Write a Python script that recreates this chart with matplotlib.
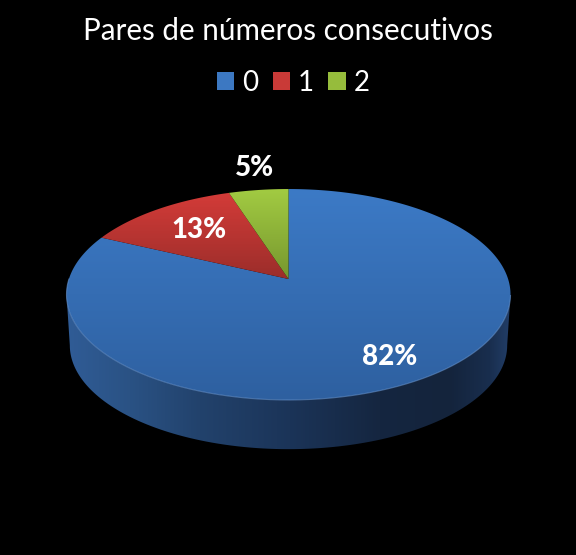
import numpy as np
import matplotlib
matplotlib.use("Agg")
import matplotlib.pyplot as plt
from matplotlib.patches import Polygon, Patch

plt.rcParams['font.family'] = ['Lato', 'DejaVu Sans']

title = "Pares de números consecutivos"
categories = ["0", "1", "2"]
values = [82, 13, 5]
labels = ["82%", "13%", "5%"]
top_colors = [("#3C7AC6", "#2E60A0"), ("#D63C39", "#9A2D2A"), ("#A2CB42", "#76962E")]
legend_colors = ["#3C78C2", "#C93A37", "#96BC3C"]

W, H = 576, 555
fig = plt.figure(figsize=(W / 100, H / 100), dpi=100, facecolor="black")
ax = fig.add_axes([0, 0, 1, 1])
ax.set_xlim(0, W)
ax.set_ylim(H, 0)
ax.axis("off")

# perspective view of the disc
CX, CY, RX, RY, P = 288.5, 279.0, 219.6, 103.2, -0.147
DEPTH_Y, BOTTOM_SCALE = 330.0, 0.985


def project(theta, scale=1.0, cy=CY):
    """theta is measured clockwise from 12 o'clock, in radians."""
    x, y = np.sin(theta), -np.cos(theta)
    d = 1 + P * y
    return CX + scale * RX * x / d, cy + scale * RY * y / d


def rgb(c):
    return np.array(matplotlib.colors.to_rgb(c))


def vgrad(c0, c1, clip, y0, y1, z=2):
    t = np.linspace(0, 1, 256)[:, None, None]
    img = rgb(c0)[None, None, :] * (1 - t) + rgb(c1)[None, None, :] * t
    im = ax.imshow(img, extent=[40, 540, y1, y0], aspect="auto", zorder=z,
                   interpolation="bilinear")
    im.set_clip_path(clip)


# side wall
th = np.linspace(0, 2 * np.pi, 1441)
tx, ty = project(th)
bx, by = project(th, BOTTOM_SCALE, DEPTH_Y)
i_r, i_l = np.argmax(tx), np.argmin(tx)
j_r, j_l = np.argmax(bx), np.argmin(bx)
front_top = np.c_[tx[i_r:i_l + 1], ty[i_r:i_l + 1]]
front_bot = np.c_[bx[j_r:j_l + 1], by[j_r:j_l + 1]][::-1]
side = Polygon(np.vstack([front_top, front_bot]), closed=True, fc="none", ec="none",
               transform=ax.transData)
ax.add_patch(side)
stops_x = [67, 130, 200, 290, 380, 450, 490, 511]
stops_r = [48, 42, 34, 27, 21, 20, 25, 34]
stops_g = [92, 82, 66, 52, 38, 36, 46, 62]
stops_b = [150, 132, 108, 88, 64, 60, 78, 104]
xs = np.linspace(40, 540, 500)
side_img = np.stack([np.interp(xs, stops_x, s) for s in (stops_r, stops_g, stops_b)], axis=-1)[None, :, :] / 255
im = ax.imshow(side_img, extent=[40, 540, 460, 280], aspect="auto", zorder=1,
               interpolation="bilinear")
im.set_clip_path(side)

# top wedges, clockwise from 12 o'clock, drawn so that the first value starts at the top
fracs = np.array(values) / np.sum(values)
edges = np.r_[0, np.cumsum(fracs)] * 2 * np.pi
for k in range(len(values)):
    t = np.linspace(edges[k], edges[k + 1], 400)
    wx, wy = project(t)
    poly = Polygon(np.vstack([[CX, CY], np.c_[wx, wy]]), closed=True, fc="none", ec="none",
                   transform=ax.transData)
    ax.add_patch(poly)
    if k == 0:
        vgrad(top_colors[k][0], top_colors[k][1], poly, 189, 400)
    else:
        vgrad(top_colors[k][0], top_colors[k][1], poly, 189, 280)

# soft highlight on the front rim
t = np.linspace(np.pi * 0.55, np.pi * 1.5, 300)
rx_, ry_ = project(t)
ax.plot(rx_, ry_, color="#6E9BD6", lw=0.8, alpha=0.55, zorder=3)

# title, labels, legend
ax.text(288, 31, title, color="white", fontsize=21.3, ha="center", va="center", zorder=5)
label_pos = [(390, 357), (199, 230), (254, 168)]
for s, (x, y) in zip(labels, label_pos):
    ax.text(x, y, s, color="white", fontsize=20, fontweight="black", ha="center", va="center", zorder=5)

handles = [Patch(facecolor=c, edgecolor="none", label=n) for c, n in zip(legend_colors, categories)]
leg = ax.legend(handles=handles, loc="center", bbox_to_anchor=(293 / W, 1 - 83 / H), ncol=3,
                frameon=False, fontsize=20, labelcolor="white", handlelength=0.62, handleheight=0.62,
                handletextpad=0.28, columnspacing=0.53, borderpad=0, borderaxespad=0)

fig.savefig("out.png", dpi=100, facecolor="black")
